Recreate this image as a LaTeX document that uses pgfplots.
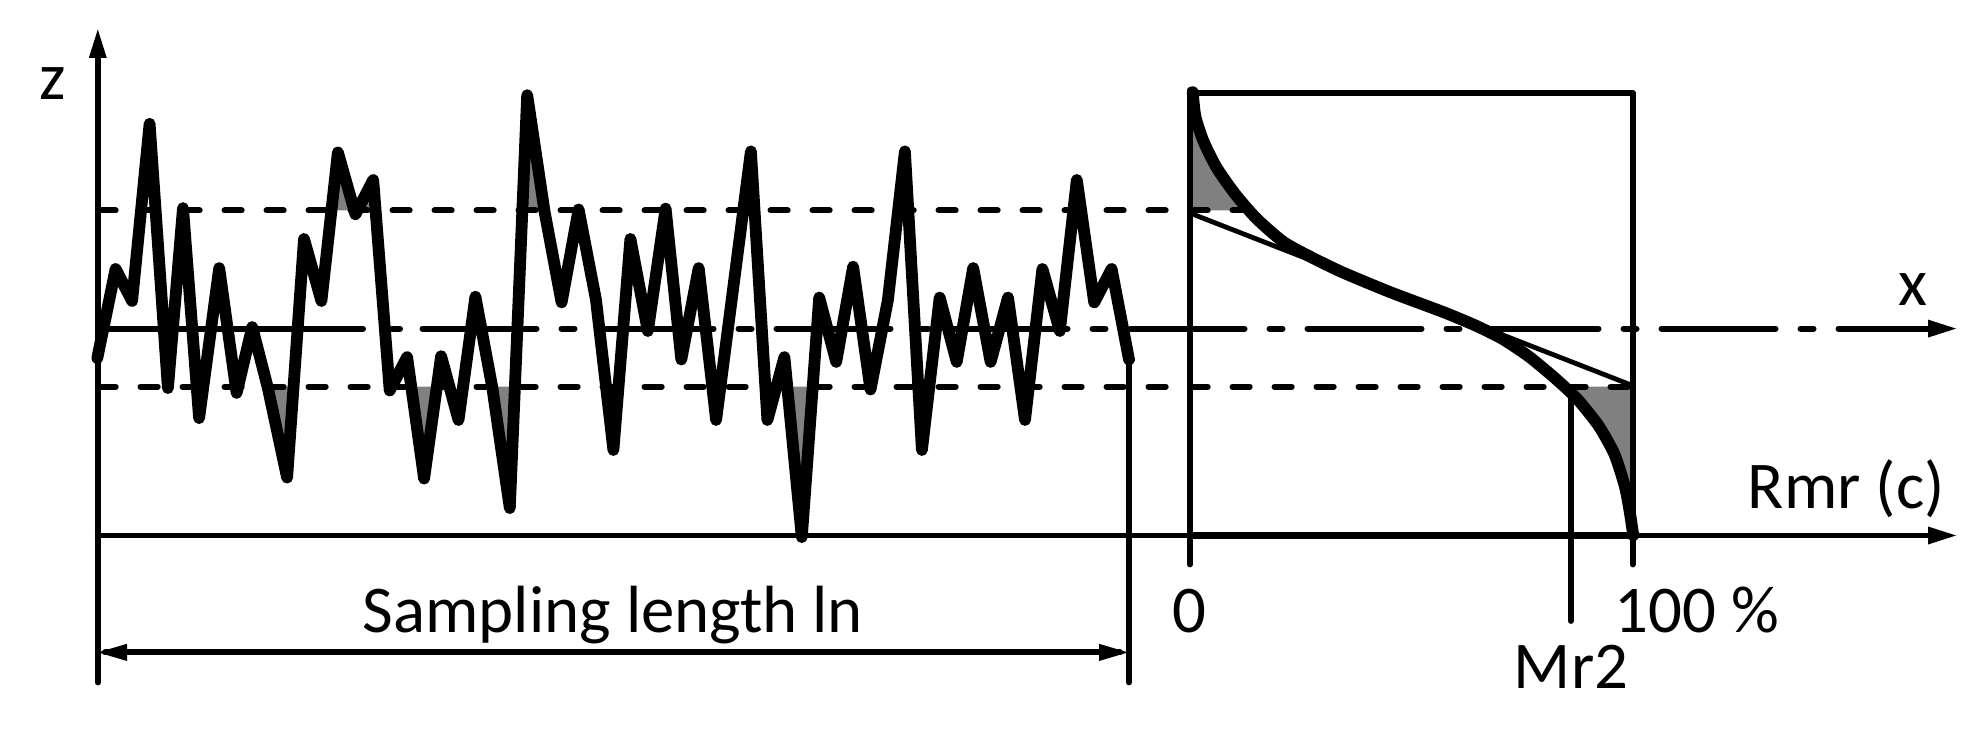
\documentclass[border=0pt]{standalone}
\usepackage{fontspec}
\setmainfont{Carlito}
\usepackage{pgfplots}
\pgfplotsset{compat=1.18}
\tikzset{
  lnn/.style={black,line width=2.9pt},
  dsh/.style={black,line width=3pt,dash pattern=on 8.6pt off 12.4pt},
  hd/.style={fill=black,draw=none},
  grr/.style={fill=gray,draw=none},
  lab/.style={inner sep=0pt,font=\fontsize{33.4}{40}\selectfont},
}
\pgfplotstableread{
x y
97.3 358.1
115.6 269.0
132.1 301.0
149.6 123.8
167.9 388.1
183.0 208.1
199.1 418.1
219.2 268.1
236.6 392.9
252.2 327.1
267.9 388.1
287.1 477.6
304.0 239.0
321.4 301.0
337.9 152.4
355.4 214.3
373.2 180.0
389.7 390.5
407.1 357.1
424.1 478.6
441.1 356.2
458.5 420.0
475.4 296.7
492.4 388.1
509.8 508.1
527.2 95.2
544.6 211.9
561.6 302.4
578.6 209.5
596.0 300.0
613.4 450.0
630.4 239.0
647.8 331.0
665.6 208.6
681.3 359.5
698.7 268.1
716.1 420.0
750.9 151.4
767.4 420.0
784.4 357.1
801.8 537.1
819.2 297.6
836.2 361.9
853.1 266.7
870.5 389.5
887.9 300.0
904.9 151.4
921.9 450.0
939.7 297.6
956.7 361.9
973.2 268.1
990.6 361.9
1008.0 297.6
1025.0 420.0
1042.4 269.0
1059.8 331.0
1076.8 180.0
1094.2 302.4
1111.6 269.0
1129.0 359.5
}\profile
\pgfplotstableread{
x y
1192.7 92.2
1195.4 116.7
1203.4 141.1
1216.7 167.8
1235.4 194.4
1256.8 218.9
1283.5 242.0
1310.2 256.7
1342.2 272.2
1390.3 292.2
1443.6 312.2
1475.7 325.6
1502.4 338.9
1529.1 356.7
1555.8 378.9
1577.1 398.9
1598.5 425.6
1614.5 454.4
1625.2 487.8
1630.5 516.7
1633.2 535.3
}\bearing
\begin{document}
\begin{tikzpicture}
\begin{axis}[
  scale only axis, width=993.5pt, height=373.5pt,
  xmin=0, xmax=1987, ymin=0, ymax=747, y dir=reverse,
  hide axis, clip=false,
  every axis plot/.append style={line cap=round,line join=round},
]
\path (axis cs:0,0) rectangle (axis cs:1987,747);
% grey areas
\addplot[grr] coordinates {(331,210.5)(337.9,152.4)(355.4,214.3)(373.2,180)(381,210.5)} --cycle;
\addplot[grr] coordinates {(519,210.5)(527.2,95.2)(544.6,211.9)} --cycle;
\addplot[grr] coordinates {(268,386.7)(296,386.7)(287.1,477.6)} --cycle;
\addplot[grr] coordinates {(411,386.7)(437,386.7)(424.1,478.6)} --cycle;
\addplot[grr] coordinates {(492.4,386.7)(515,386.7)(509.8,508.1)} --cycle;
\addplot[grr] coordinates {(787,386.7)(814.7,386.7)(801.8,537.1)} --cycle;
\addplot[grr] coordinates {(1190,100)(1195.4,116.7)(1203.4,141.1)(1216.7,167.8)(1235.4,194.4)(1249,210.5)(1190,210.5)} --cycle;
\addplot[grr] coordinates {(1565,386.7)(1632,386.7)(1632,535)(1625.2,487.8)(1614.5,454.4)(1598.5,425.6)(1577.1,398.9)} --cycle;
% frame and axes
\addplot[lnn] coordinates {(97.8,682.5)(97.8,50)};
\addplot[hd] coordinates {(97.8,29.5)(88.8,58)(106.8,58)} --cycle;
\addplot[lnn] coordinates {(97.8,535.5)(1935,535.5)};
\addplot[hd] coordinates {(1956,535.5)(1928,526.5)(1928,544.5)} --cycle;
\addplot[lnn] coordinates {(1129,359.5)(1129,682.5)};
\addplot[lnn] coordinates {(105,652.4)(1120,652.4)};
\addplot[hd] coordinates {(98,652.4)(127,643.8)(127,661)} --cycle;
\addplot[hd] coordinates {(1128,652.4)(1099,643.8)(1099,661)} --cycle;
\addplot[lnn] coordinates {(1190,564.5)(1190,90)};
\addplot[lnn] coordinates {(1190,92.7)(1632.6,92.7)(1632.6,564.5)};
\addplot[lnn] coordinates {(1570.7,387.8)(1570.7,621)};
\addplot[lnn,line width=3.2pt] coordinates {(1190,535.5)(1632,535.5)};
% levels
\addplot[dsh] coordinates {(98.5,210.5)(1246,210.5)};
\addplot[dsh] coordinates {(98.5,386.7)(1636,386.7)};
\addplot[lnn,line width=3pt] coordinates {(98.5,328.6)(363,328.6)};
\addplot[lnn,line width=3pt] coordinates {(392,328.6)(400,328.6)};
\addplot[lnn,line width=3pt,dash pattern=on 57pt off 12.5pt on 6.5pt off 12.5pt] coordinates {(422.5,328.6)(1935,328.6)};
\addplot[hd] coordinates {(1956,328.6)(1928,319.6)(1928,337.6)} --cycle;
% tangent
\addplot[lnn,line width=2.4pt] coordinates {(1190,213.1)(1632.6,385.6)};
% profile and bearing curve
\addplot[black,line width=5.9pt] table[x=x,y=y] {\profile};
\addplot[black,line width=5.9pt,smooth,tension=0.4] table[x=x,y=y] {\bearing};
% labels
\node[lab,anchor=base] at (axis cs:53,100) {z};
\node[lab,anchor=base] at (axis cs:613,632.5) {Sampling length ln};
\node[lab,anchor=base] at (axis cs:1189,632.5) {0};
\node[lab,anchor=base west] at (axis cs:1614,632.5) {100 \%};
\node[lab,anchor=base] at (axis cs:1571,689) {Mr2};
\node[lab,anchor=base east] at (axis cs:1945,509) {Rmr (c)};
\node[lab,anchor=base] at (axis cs:1912.5,306) {x};
\end{axis}
\end{tikzpicture}
\end{document}
